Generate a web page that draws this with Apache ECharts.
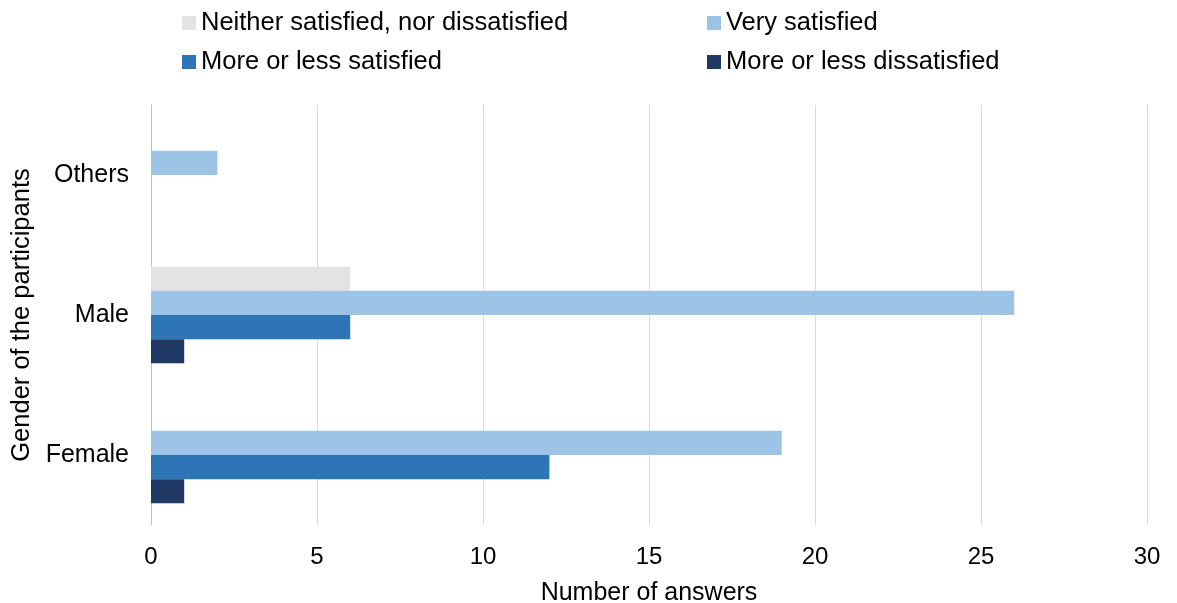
<!DOCTYPE html>
<html>
<head>
<meta charset="utf-8">
<script src="https://cdn.jsdelivr.net/npm/echarts@6/dist/echarts.min.js"></script>
<style>
  html, body { margin: 0; padding: 0; background: #fff; }
  #main { width: 1177px; height: 603px; }
</style>
</head>
<body>
<div id="main"></div>
<script>
var categories = ['Female', 'Male', 'Others'];
var neither = [0, 6, 0];
var verySatisfied = [19, 26, 2];
var moreSatisfied = [12, 6, 0];
var moreDissatisfied = [1, 1, 0];

var FONT = '"Liberation Sans", Arial, sans-serif';

var chartDom = document.getElementById('main');
var myChart = echarts.init(chartDom);

var legendText = { fontFamily: FONT, fontSize: 25.5, color: '#000' };

var option = {
  animation: false,
  legend: [
    {
      left: 177, top: 5, orient: 'vertical', itemGap: 13,
      itemWidth: 14, itemHeight: 14, icon: 'rect',
      textStyle: legendText,
      data: ['Neither satisfied, nor dissatisfied', 'More or less satisfied']
    },
    {
      left: 702, top: 5, orient: 'vertical', itemGap: 13,
      itemWidth: 14, itemHeight: 14, icon: 'rect',
      textStyle: legendText,
      data: ['Very satisfied', 'More or less dissatisfied']
    }
  ],
  grid: {
    left: 151, right: 30, top: 105, bottom: 78,
    containLabel: false, outerBoundsMode: 'none'
  },
  xAxis: {
    type: 'value',
    min: 0, max: 30, interval: 5,
    name: 'Number of answers',
    nameLocation: 'middle',
    nameGap: 56,
    nameTextStyle: { fontFamily: FONT, fontSize: 25, color: '#000' },
    axisLine: { show: false },
    axisTick: { show: false },
    axisLabel: { fontFamily: FONT, fontSize: 24, color: '#000', margin: 20 },
    splitLine: { lineStyle: { color: '#d9d9d9', width: 1 } }
  },
  yAxis: {
    type: 'category',
    data: categories,
    name: 'Gender of the participants',
    nameLocation: 'middle',
    nameRotate: 90,
    nameGap: 104,
    nameTextStyle: { fontFamily: FONT, fontSize: 25.5, color: '#000' },
    axisLine: { show: true, lineStyle: { color: '#bfbfbf', width: 1 } },
    axisTick: { show: false },
    axisLabel: { fontFamily: FONT, fontSize: 25, color: '#000', margin: 22, padding: [4, 0, 0, 0] }
  },
  // first series sits at the top of each group
  series: [
    {
      name: 'Neither satisfied, nor dissatisfied', type: 'bar', data: neither,
      itemStyle: { color: '#e3e3e3' }, barGap: '0%', barCategoryGap: '31%'
    },
    {
      name: 'Very satisfied', type: 'bar', data: verySatisfied,
      itemStyle: { color: '#9dc3e6' }
    },
    {
      name: 'More or less satisfied', type: 'bar', data: moreSatisfied,
      itemStyle: { color: '#2e75b6' }
    },
    {
      name: 'More or less dissatisfied', type: 'bar', data: moreDissatisfied,
      itemStyle: { color: '#203864' }
    }
  ]
};

myChart.setOption(option);
window.addEventListener('resize', myChart.resize);
</script>
</body>
</html>
